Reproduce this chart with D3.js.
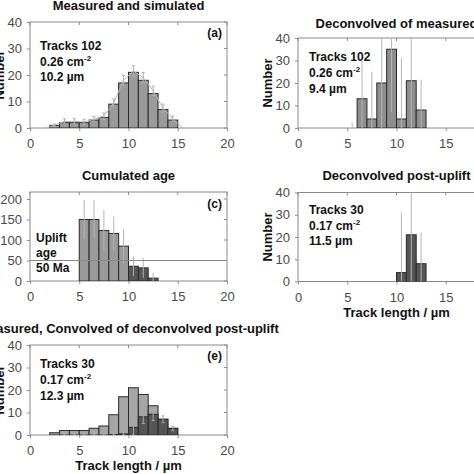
<!DOCTYPE html>
<html><head><meta charset="utf-8">
<script src="https://cdn.jsdelivr.net/npm/d3@7"></script>
<style>
body{margin:0;background:#fff;}
svg{display:block;font-family:"Liberation Sans",Arial,Helvetica,sans-serif;}
</style></head>
<body>
<script>
// ---- data ----
const binStartsA = [2,3,4,5,6,7,8,9,10,11,12,13,14];
const measuredA = [1,2,2,2,3,4,9,17,21,18,13,7,3];
const simX = [1.5,2.5,3.5,4.5,5.5,6.5,7.5,8.5,9.5,10.5,11.5,12.5,13.5,14.5,15.5];
const simY = [0,1,2.5,2.5,2.3,3.3,4.5,9.5,18,21.5,19,14,7.5,3.5,0];
const simErr = [0,0.5,1,1,1,1,1.2,1.5,1.8,2,2,1.8,1.5,1,0];

const binStartsB = [5,6,7,8,9,10,11,12];
const deconvB = [0,13,4,20,35,4,21,8];
const deconvBErr = [2.5,17,21,25,28,27,22,13.5];

const binStartsC = [5,6,7,8,9,10,11,12];
const cumAge = [150,150,123,116,85,36,32,7];
const cumAgeErr = [47,47,50,41,41,24,24,13];
const postUpliftC = [false,false,false,false,false,true,true,true];
const upliftAge = 50;

const binStartsD = [10,11,12];
const postUplift = [4,21,8];
const postUpliftErr = [27,25,14];

const convolvedE = [0,0,0,0,0,0,0.2,0.5,3.4,8.1,9.2,7,2.9];
const convolvedErr = [0,1.5,1.3,1,1,1,1.3,1.5,3.5,3,2.8,1.5,1];

const xTicks = [0,5,10,15,20];
const yTicks40 = [0,10,20,30,40];
const yTicksAge = [0,50,100,150,200];

// ---- drawing ----
const svg = d3.select("body").append("svg").attr("width",474).attr("height",474);
const LIGHT = "#9a9a9a", DARK = "#555555", FRAME = "#8a8a8a";

function panel(o){
  const g = svg.append("g");
  const x = d3.scaleLinear().domain([0,20]).range([o.x0, o.x0+197]);
  const y = d3.scaleLinear().domain([0,o.ymax]).range([o.y0, o.y0 - o.h40]);
  const top = o.top;
  const cid = "clip"+o.id;
  svg.append("clipPath").attr("id",cid).append("rect")
    .attr("x",o.x0).attr("y",top).attr("width",197).attr("height",o.y0-top);
  g.append("rect").attr("x",o.x0).attr("y",top).attr("width",197).attr("height",o.y0-top)
    .attr("fill","none").attr("stroke",FRAME).attr("stroke-width",1);
  const ax = d3.axisBottom(x).tickValues(xTicks).tickSize(3).tickPadding(8);
  const axG = g.append("g").attr("transform",`translate(0,${o.y0})`).call(ax);
  const ay = d3.axisLeft(y).tickValues(o.yTicks).tickSize(3).tickPadding(5);
  const ayG = g.append("g").attr("transform",`translate(${o.x0},0)`).call(ay);
  [axG,ayG].forEach(a=>{
    a.select(".domain").remove();
    a.selectAll("line").attr("stroke",FRAME);
    a.selectAll("text").attr("fill","#4a4a4a").attr("font-size",13)
      .attr("font-family","'Liberation Sans',Arial,sans-serif");
  });
  g.append("g").selectAll("line").data(xTicks).join("line")
    .attr("x1",d=>x(d)).attr("x2",d=>x(d)).attr("y1",top).attr("y2",top+3).attr("stroke",FRAME);
  g.append("g").selectAll("line").data(o.yTicks).join("line")
    .attr("x1",o.x0+197).attr("x2",o.x0+194).attr("y1",d=>y(d)).attr("y2",d=>y(d)).attr("stroke",FRAME);
  g.append("text").attr("x",o.x0+98.5).attr("y",o.titleY).attr("text-anchor","middle")
    .attr("font-weight","bold").attr("font-size",13).attr("fill","#111").text(o.title);
  if(o.ylabel){
    g.append("text").attr("transform",`translate(${o.x0-26},${(top+o.y0)/2}) rotate(-90)`)
      .attr("text-anchor","middle").attr("font-weight","bold").attr("font-size",13).attr("fill","#111").text(o.ylabel);
  }
  if(o.xlabel){
    g.append("text").attr("x",o.x0+98.5).attr("y",o.y0+35).attr("text-anchor","middle")
      .attr("font-weight","bold").attr("font-size",13).attr("fill","#111").text(o.xlabel);
  }
  if(o.tag){
    g.append("text").attr("x",o.x0+192).attr("y",o.tagY).attr("text-anchor","end")
      .attr("font-weight","bold").attr("font-size",12).attr("fill","#111").text(o.tag);
  }
  if(o.info){
    o.info.forEach((line,i)=>{
      const t = g.append("text").attr("x",o.infoX).attr("y",o.infoY+i*o.infoDy)
        .attr("font-weight","bold").attr("font-size",12).attr("fill","#111");
      if(line.sup){
        t.append("tspan").text(line.text);
        t.append("tspan").attr("dy",-5).attr("font-size",8).text(line.sup);
      } else t.text(line.text);
    });
  }
  const plot = g.append("g").attr("clip-path",`url(#${cid})`);
  return {g,plot,x,y};
}

function bars(p, starts, vals, fill, stroke){
  p.plot.append("g").selectAll("rect").data(starts).join("rect")
    .attr("x",d=>p.x(d)).attr("width",d=>p.x(d+1)-p.x(d))
    .attr("y",(d,i)=>p.y(vals[i])).attr("height",(d,i)=>p.y(0)-p.y(vals[i]))
    .attr("fill",typeof fill==="function"?fill:()=>fill).attr("stroke",stroke||"#2a2a2a").attr("stroke-width",1);
}
function errs(p, centers, vals, e, color, cap){
  const gg = p.plot.append("g");
  centers.forEach((c,i)=>{
    if(e[i]<=0) return;
    const lo=Math.max(0,vals[i]-e[i]), hi=vals[i]+e[i];
    gg.append("line").attr("x1",p.x(c)).attr("x2",p.x(c)).attr("y1",p.y(lo)).attr("y2",p.y(hi))
      .attr("stroke",color).attr("stroke-width",1);
    if(cap){
      [lo,hi].forEach(v=>gg.append("line").attr("x1",p.x(c)-1.5).attr("x2",p.x(c)+1.5)
        .attr("y1",p.y(v)).attr("y2",p.y(v)).attr("stroke",color));
    }
  });
}

// Panel a
const pa = panel({id:"a",x0:30,y0:128,h40:106,top:22,ymax:40,yTicks:yTicks40,
  title:"Measured and simulated",titleY:10,ylabel:"Number",tag:"(a)",tagY:37,
  info:[{text:"Tracks 102"},{text:"0.26 cm",sup:"-2"},{text:"10.2 µm"}],infoX:40,infoY:50,infoDy:15.5});
bars(pa, binStartsA, measuredA, LIGHT);
pa.plot.append("path").datum(simX.map((d,i)=>[d,simY[i]]))
  .attr("d",d3.line().x(d=>pa.x(d[0])).y(d=>pa.y(d[1])))
  .attr("fill","none").attr("stroke","#b8b8b8").attr("stroke-width",1);
errs(pa, simX, simY, simErr, "#b0b0b0", true);

// Panel b
const pb = panel({id:"b",x0:298,y0:128,h40:90,top:38,ymax:40,yTicks:yTicks40,
  title:"Deconvolved of measured",titleY:28,ylabel:"Number",
  info:[{text:"Tracks 102"},{text:"0.26 cm",sup:"-2"},{text:"9.4 µm"}],infoX:309,infoY:61,infoDy:16});
bars(pb, binStartsB, deconvB, "#8e8e8e");
errs(pb, binStartsB.map(d=>d+0.5), deconvB, deconvBErr, "#b5b5b5", false);

// Panel c
const pc = panel({id:"c",x0:30,y0:281,h40:82,top:192,ymax:200,yTicks:yTicksAge,
  title:"Cumulated age",titleY:180,tag:"(c)",tagY:208,
  info:[{text:"Uplift"},{text:"age"},{text:"50 Ma"}],infoX:36,infoY:242,infoDy:15});
bars(pc, binStartsC, cumAge, (d,i)=>postUpliftC[i]?DARK:LIGHT);
errs(pc, binStartsC.map(d=>d+0.5), cumAge, cumAgeErr, "#b5b5b5", false);
pc.g.append("line").attr("x1",pc.x(0)).attr("x2",pc.x(20)).attr("y1",pc.y(upliftAge)).attr("y2",pc.y(upliftAge))
  .attr("stroke","#888").attr("stroke-width",1);

// Panel d
const pd = panel({id:"d",x0:298,y0:281.5,h40:89,top:192.5,ymax:40,yTicks:yTicks40,
  title:"Deconvolved post-uplift",titleY:180,ylabel:"Number",xlabel:"Track length /  µm",
  info:[{text:"Tracks 30"},{text:"0.17 cm",sup:"-2"},{text:"11.5 µm"}],infoX:309,infoY:214,infoDy:15.5});
bars(pd, binStartsD, postUplift, DARK);
errs(pd, binStartsD.map(d=>d+0.5), postUplift, postUpliftErr, "#b5b5b5", false);

// Panel e
const pe = panel({id:"e",x0:30,y0:435,h40:90,top:345,ymax:40,yTicks:yTicks40,
  title:"Measured, Convolved of deconvolved post-uplift",titleY:333,ylabel:"Number",xlabel:"Track length / µm",
  tag:"(e)",tagY:360,
  info:[{text:"Tracks 30"},{text:"0.17 cm",sup:"-2"},{text:"12.3 µm"}],infoX:40,infoY:368,infoDy:16});
bars(pe, binStartsA, measuredA, "#a6a6a6");
bars(pe, binStartsA, convolvedE, DARK);
errs(pe, binStartsA.map(d=>d+0.5), convolvedE, convolvedErr, "#a8a8a8", true);
</script>
</body></html>
